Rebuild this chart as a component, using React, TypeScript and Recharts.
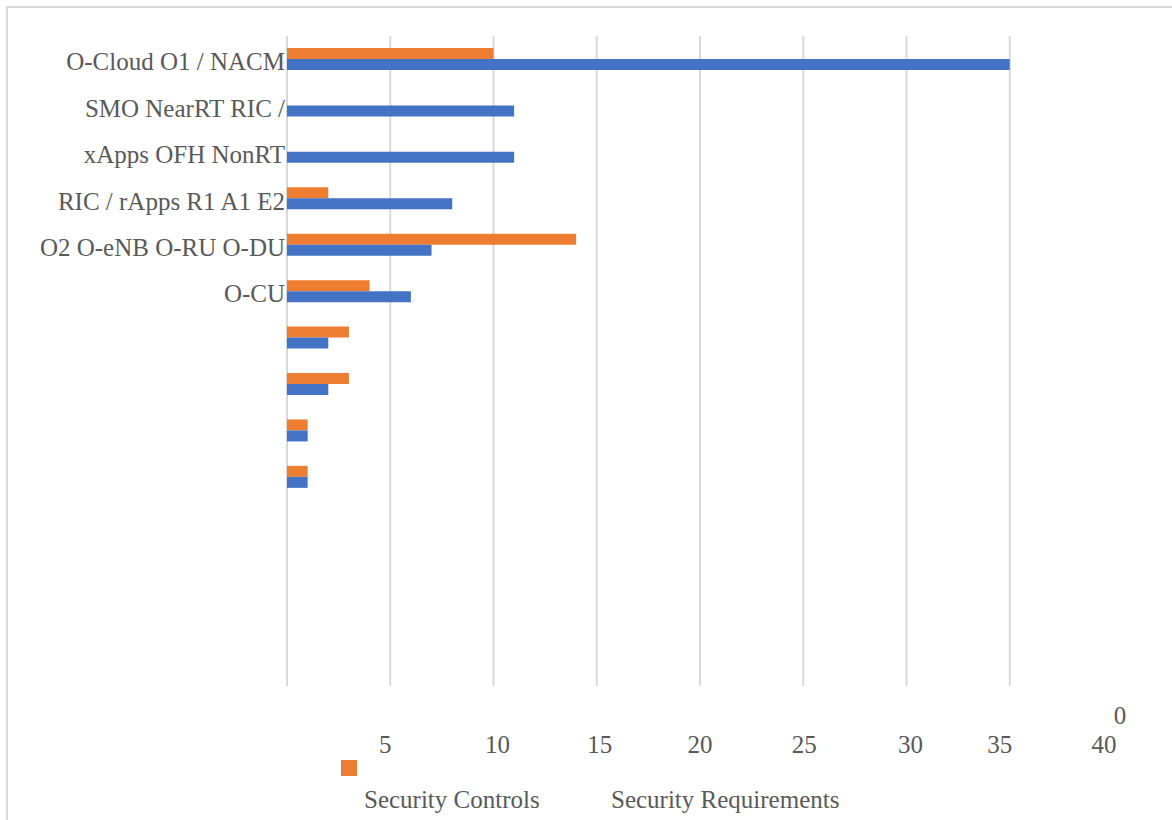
import React from 'react';
import { BarChart, Bar, XAxis, YAxis, CartesianGrid, Legend } from 'recharts';

const categories: string[] = [
  'O-Cloud O1 / NACM',
  'SMO NearRT RIC /',
  'xApps OFH NonRT',
  'RIC / rApps R1 A1 E2',
  'O2 O-eNB O-RU O-DU',
  'O-CU',
  '',
  '',
  '',
  '',
  '',
  '',
  '',
  '',
];
const securityControls: (number | null)[] = [10, 0, 0, 2, 14, 4, 3, 3, 1, 1, null, null, null, null];
const securityRequirements: (number | null)[] = [35, 11, 11, 8, 7, 6, 2, 2, 1, 1, null, null, null, null];
const xTicks: number[] = [0, 5, 10, 15, 20, 25, 30, 35, 40];
const gridValues: number[] = [0, 5, 10, 15, 20, 25, 30, 35];
const seriesNames = { controls: 'Security Controls', requirements: 'Security Requirements' };

const data = categories.map((name, i) => ({
  id: i,
  name,
  controls: securityControls[i],
  requirements: securityRequirements[i],
}));

const W = 1172;
const H = 820;
const MARGIN = { top: 36, right: 59, bottom: 0, left: 0 };
const Y_AXIS_W = 287;
const X_AXIS_H = 134;
const PLOT_W = W - MARGIN.left - MARGIN.right - Y_AXIS_W;
const FONT = '"Liberation Serif", "Times New Roman", serif';
const TEXT = '#595959';
const ORANGE = '#ED7D31';
const BLUE = '#4472C4';
const GRID = '#D9D9D9';
// small horizontal nudges of the tick labels, as in the reference rendering
const TICK_LABEL_NUDGE: Record<number, number> = { 5: -5, 10: 4, 15: 3, 20: 0, 25: 1, 30: 4, 35: -10, 40: -9 };

const YTick = (props: any) => {
  const { x, y, payload } = props;
  const label = categories[payload.value] ?? '';
  return (
    <text x={x} y={y} dy={11} textAnchor="end" fill={TEXT} fontFamily={FONT} fontSize={25}>
      {label}
    </text>
  );
};

const XTick = (props: any) => {
  const { x, y, payload } = props;
  const isZero = payload.value === 0;
  const tx = isZero ? x + PLOT_W + 7 : x + (TICK_LABEL_NUDGE[payload.value] ?? 0);
  const dy = isZero ? 38 : 67;
  return (
    <text x={tx} y={y} dy={dy} textAnchor="middle" fill={TEXT} fontFamily={FONT} fontSize={25}>
      {payload.value}
    </text>
  );
};

const LegendContent = (props: any) => {
  const payload = props.payload || [];
  const textLefts = [364, 611];
  return (
    <div style={{ position: 'relative', width: W, height: 80, fontFamily: FONT, color: TEXT }}>
      {payload.length > 0 && (
        <div
          style={{
            position: 'absolute',
            left: 341,
            top: 20,
            width: 16,
            height: 16,
            background: payload[0].color,
          }}
        />
      )}
      {payload.map((entry: any, i: number) => (
        <div
          key={entry.value}
          style={{
            position: 'absolute',
            left: textLefts[i] ?? 0,
            top: 45,
            fontSize: 25,
            lineHeight: '30px',
            whiteSpace: 'nowrap',
          }}
        >
          {entry.value}
        </div>
      ))}
    </div>
  );
};

export default function App() {
  return (
    <div style={{ position: 'absolute', left: 0, top: 0, width: W, height: H, background: '#fff' }}>
      <div
        style={{
          position: 'absolute',
          left: 6,
          top: 6,
          width: W - 6,
          height: H - 6,
          borderTop: `2px solid ${GRID}`,
          borderLeft: `2px solid ${GRID}`,
          boxSizing: 'border-box',
        }}
      />
      <div style={{ position: 'absolute', left: 0, top: 0 }}>
        <BarChart
          width={W}
          height={H}
          data={data}
          layout="vertical"
          margin={MARGIN}
          barSize={11}
          barGap={0}
        >
          <CartesianGrid
            horizontal={false}
            vertical={true}
            verticalValues={gridValues}
            stroke={GRID}
            strokeWidth={2}
          />
          <XAxis
            type="number"
            domain={[0, 40]}
            ticks={xTicks}
            interval={0}
            axisLine={false}
            tickLine={false}
            tickSize={0}
            tickMargin={0}
            height={X_AXIS_H}
            tick={<XTick />}
          />
          <YAxis
            type="category"
            dataKey="id"
            width={Y_AXIS_W}
            axisLine={false}
            tickLine={false}
            tickSize={0}
            tickMargin={2}
            interval={0}
            tick={<YTick />}
          />
          <Legend
            layout="horizontal"
            align="center"
            verticalAlign="middle"
            wrapperStyle={{ left: 0, top: 740, width: W, height: 80 }}
            content={<LegendContent />}
          />
          <Bar dataKey="controls" name={seriesNames.controls} fill={ORANGE} isAnimationActive={false} />
          <Bar dataKey="requirements" name={seriesNames.requirements} fill={BLUE} isAnimationActive={false} />
        </BarChart>
      </div>
    </div>
  );
}
